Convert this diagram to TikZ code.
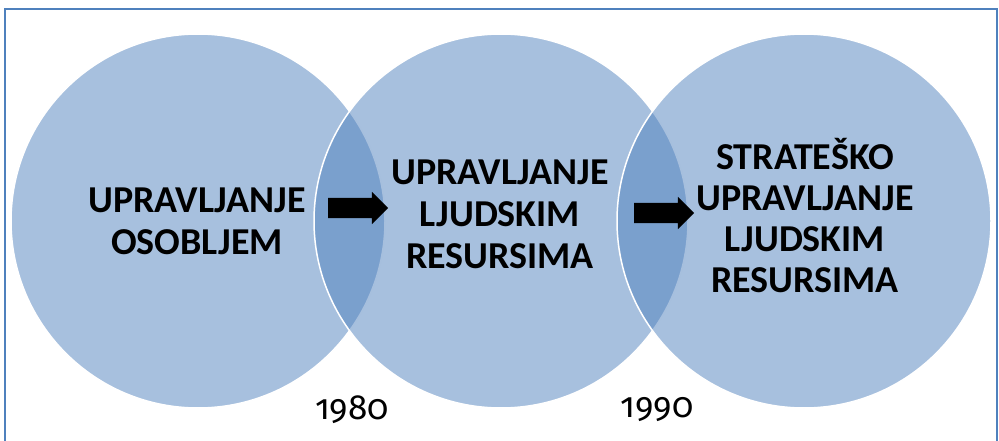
\documentclass[tikz,border=0pt]{standalone}
\usepackage{fontspec}
\setmainfont{Carlito}
\newfontfamily\godfont[Numbers=OldStyle]{Fira Sans}
\usetikzlibrary{shapes.arrows}

\definecolor{krug}{RGB}{79,129,189}
\definecolor{okvir}{RGB}{79,129,189}

\begin{document}
\begin{tikzpicture}[
        x=1pt, y=-1pt,
        faza/.style = {circle, minimum size=374pt, inner sep=0pt,
                fill=krug, fill opacity=0.5, draw=white, line width=1.5pt}, % krugovi
        natpis/.style = {align=center, font=\fontsize{38}{42}\selectfont\bfseries},
        strelica/.style = {single arrow, fill=black, minimum height=60pt,
                inner xsep=0pt, inner ysep=10pt, single arrow head extend=6pt},
        godina/.style = {font=\fontsize{35}{35}\selectfont\godfont},
    ]

    \useasboundingbox (0,0) rectangle (999,441);
    \draw[okvir, line width=2pt] (5,9) rectangle (997,460);

    \node[faza] (osoblje) at (198,221) {};
    \node[faza] (ljr) at (501,221) {};
    \node[faza] (sljr) at (804,221) {};

    \node[natpis] (t1) at (197,221) {UPRAVLJANJE\\OSOBLJEM};
    \node[natpis] (t2) at (500,214) {UPRAVLJANJE\\LJUDSKIM\\RESURSIMA};
    \node[natpis, font=\fontsize{38}{41}\selectfont\bfseries] (t3) at (805,216) {STRATEŠKO\\UPRAVLJANJE\\LJUDSKIM\\RESURSIMA};

    \node[strelica] (s1) at (353,208) {};
    \node[strelica] (s2) at (659,213) {};

    \node[godina] (g1) at (352,410) {1980};
    \node[godina] (g2) at (657,410) {1990};

\end{tikzpicture}
\end{document}
